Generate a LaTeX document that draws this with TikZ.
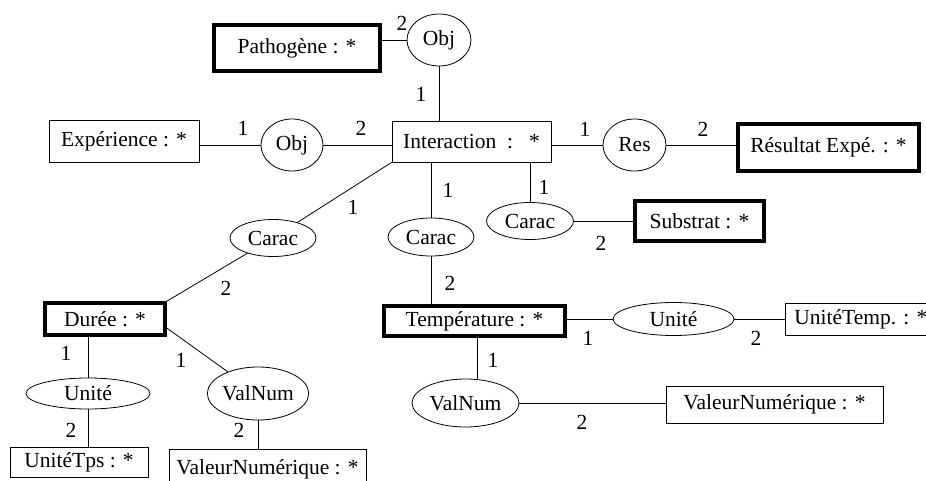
\documentclass[tikz,border=0pt]{standalone}
\usepackage{fontspec}
\setmainfont{Liberation Serif}
\usetikzlibrary{shapes.geometric}
\begin{document}
\begin{tikzpicture}[x=1pt,y=-1pt,
    every node/.style={font=\fontsize{21.5}{24}\selectfont},
    box/.style={draw,line width=.8pt,inner sep=0pt},
    bbox/.style={box,line width=3.5pt},
    rel/.style={draw,ellipse,line width=.8pt,inner sep=0pt},
    card/.style={inner sep=0pt},
    conn/.style={line width=.8pt}]
    \useasboundingbox (0,0) rectangle (926,481);
    \clip (0,0) rectangle (926,481);
    % concepts
    \node[bbox,minimum width=166pt,minimum height=46pt] (patho) at (297,48) {Pathogène : *\hspace{23pt}};
    \node[box,minimum width=150pt,minimum height=42pt] (expe) at (124,141) {Expérience : *};
    \node[box,minimum width=159pt,minimum height=41pt] (inter) at (471.5,141.5) {Interaction\ \ :\ \ \ *};
    \node[bbox,minimum width=181pt,minimum height=47pt] (result) at (828.5,147.5) {Résultat Expé. : *};
    \node[bbox,minimum width=129pt,minimum height=40pt] (subst) at (699.5,221) {Substrat : *\hspace{14pt}};
    \node[bbox,minimum width=120pt,minimum height=32pt] (duree) at (105,319) {Durée : *};
    \node[bbox,minimum width=181pt,minimum height=30pt] (temp) at (474.5,321) {Température : *};
    \node[box,minimum height=32pt,anchor=west,inner xsep=9pt] (unitT) at (785,319) {UnitéTemp. : *};
    \node[box,minimum width=217pt,minimum height=37pt] (valR) at (774.5,404.5) {ValeurNumérique : *};
    \node[box,minimum width=138pt,minimum height=30pt] (unitTps) at (79,462) {UnitéTps : *};
    \node[box,minimum width=197pt,minimum height=40pt] (valL) at (267.5,469) {ValeurNumérique : *};
    % relations
    \node[rel,minimum width=64pt,minimum height=52pt] (objP) at (439,40) {Obj};
    \node[rel,minimum width=62pt,minimum height=52pt] (objE) at (292,145) {Obj};
    \node[rel,minimum width=63pt,minimum height=52pt] (res) at (634.5,145) {Res};
    \node[rel,minimum width=87pt,minimum height=37pt] (caracR) at (530,221) {Carac};
    \node[rel,minimum width=86pt,minimum height=38pt] (caracM) at (431,237) {Carac};
    \node[rel,minimum width=86pt,minimum height=37pt] (caracL) at (273,238) {Carac};
    \node[rel,minimum width=121pt,minimum height=33pt] (unitR) at (673.5,319) {Unité};
    \node[rel,minimum width=124pt,minimum height=31pt] (unitL) at (88,393.5) {Unité};
    \node[rel,minimum width=88pt,minimum height=53pt] (valnumL) at (258,393.5) {ValNum};
    \node[rel,minimum width=107pt,minimum height=48pt] (valnumR) at (465.5,403) {ValNum};
    % arcs
    \draw[conn] (objP.west) -- (objP.west -| patho.east);
    \draw[conn] (objP) -- (objP |- inter.north);
    \draw[conn] (objE.west) -- (objE.west -| expe.east);
    \draw[conn] (objE.east) -- (objE.east -| inter.west);
    \draw[conn] (res.west) -- (res.west -| inter.east);
    \draw[conn] (res.east) -- (res.east -| result.west);
    \draw[conn] (caracR.north) -- (caracR.north |- inter.south);
    \draw[conn] (caracR.east) -- (caracR.east -| subst.west);
    \draw[conn] (caracM.north) -- (caracM.north |- inter.south);
    \draw[conn] (caracM.south) -- (caracM.south |- temp.north);
    \draw[conn] (inter.south west) -- (caracL);
    \draw[conn] (caracL) -- (duree.north east);
    \draw[conn] (unitR.west) -- (unitR.west -| temp.east);
    \draw[conn] (unitR.east) -- (unitR.east -| unitT.west);
    \draw[conn] ([xshift=12pt]valnumR.north) -- ([xshift=12pt]valnumR.north |- temp.south);
    \draw[conn] (valnumR.east) -- (valnumR.east -| valR.west);
    \draw[conn] (unitL.north) -- (unitL.north |- duree.south);
    \draw[conn] (unitL.south) -- (unitL.south |- unitTps.north);
    \draw[conn] ([yshift=-9pt]duree.east) -- (valnumL);
    \draw[conn] (valnumL.south) -- (valnumL.south |- valL.north);
    % cardinalities
    \node[card] (c1) at (402,23) {2};
    \node[card] (c2) at (421,94) {1};
    \node[card] (c3) at (243,128) {1};
    \node[card] (c4) at (361,128) {2};
    \node[card] (c5) at (585,129) {1};
    \node[card] (c6) at (703,129) {2};
    \node[card] (c7) at (544,187) {1};
    \node[card] (c8) at (601,243) {2};
    \node[card] (c9) at (448,190) {1};
    \node[card] (c10) at (450,283) {2};
    \node[card] (c11) at (353,207) {1};
    \node[card] (c12) at (226,288) {2};
    \node[card] (c13) at (588,338) {1};
    \node[card] (c14) at (756,338) {2};
    \node[card] (c15) at (493,360) {1};
    \node[card] (c16) at (582,422) {2};
    \node[card] (c17) at (66,353) {1};
    \node[card] (c18) at (71,430) {2};
    \node[card] (c19) at (181,360) {1};
    \node[card] (c20) at (239,430) {2};
\end{tikzpicture}
\end{document}
